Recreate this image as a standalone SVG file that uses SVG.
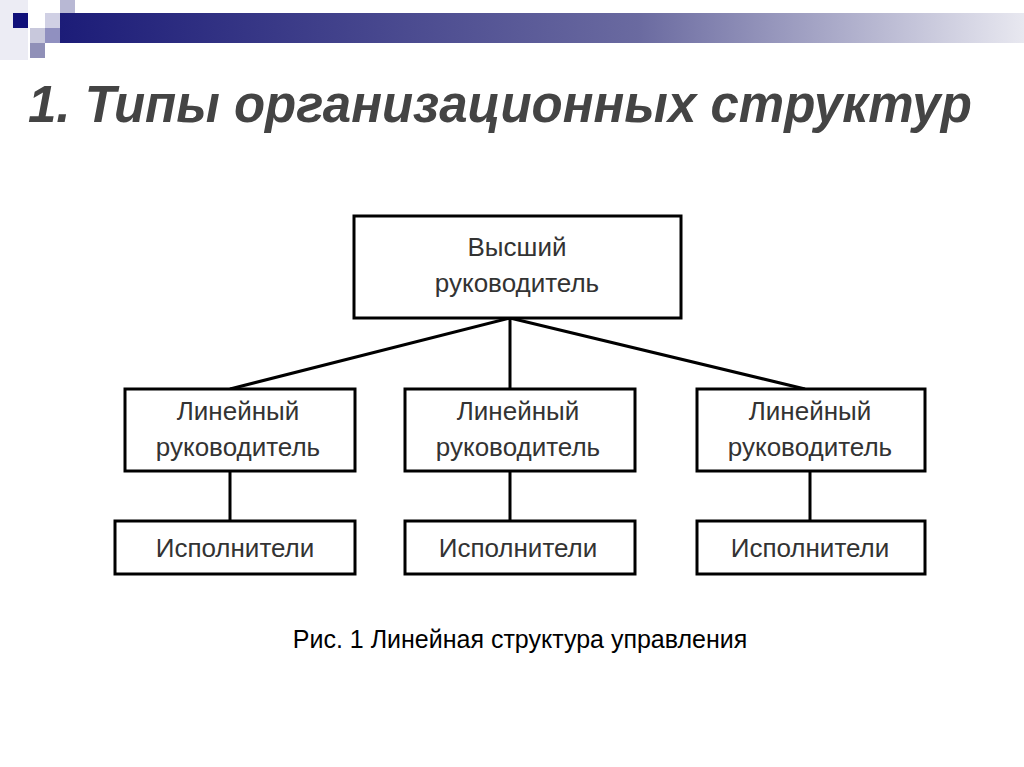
<svg xmlns="http://www.w3.org/2000/svg" width="1024" height="767" viewBox="0 0 1024 767">
<defs>
<linearGradient id="bar" x1="0" x2="1" y1="0" y2="0">
<stop offset="0" stop-color="#1c1c78"/><stop offset="0.6" stop-color="#6a6aa0"/><stop offset="1" stop-color="#e8e8f0"/>
</linearGradient>
<style>
.box{fill:#fff;stroke:#000;stroke-width:3}
.t{font-family:"Liberation Sans",Arial,sans-serif;font-size:26px;fill:#333;text-anchor:middle}
.c{stroke:#000;stroke-width:3;fill:none}
</style>
</defs>
<rect width="1024" height="767" fill="#fff"/>
<rect x="0" y="0" width="28" height="60" fill="#ececf4"/>
<rect x="60" y="0" width="15" height="28" fill="#b8b8d4"/>
<rect x="45" y="13" width="15" height="15" fill="#d0d0e4"/>
<rect x="30" y="28" width="15" height="15" fill="#c8c8dc"/>
<rect x="45" y="28" width="15" height="15" fill="#9090c0"/>
<rect x="30" y="43" width="15" height="15" fill="#9090b8"/>
<rect x="13" y="13" width="15" height="15" fill="#10107a"/>
<rect x="60" y="13" width="964" height="30" fill="url(#bar)"/>
<text x="28" y="122" font-family="'Liberation Sans',Arial,sans-serif" font-size="51" font-weight="bold" font-style="italic" fill="#444">1. Типы организационных структур</text>
<g id="connectors">
<path class="c" d="M510 318 L230 389 M510 318 V389 M510 318 L805 389 M230 471 V521 M510 471 V521 M810 471 V521"/>
</g>
<g id="top"><rect class="box" x="354" y="216" width="327" height="102"/><text class="t" x="517" y="256">Высший</text><text class="t" x="517" y="292">руководитель</text></g>
<g id="l1"><rect class="box" x="125" y="389" width="230" height="82"/><text class="t" x="238" y="420">Линейный</text><text class="t" x="238" y="456">руководитель</text></g>
<g id="l2"><rect class="box" x="405" y="389" width="230" height="82"/><text class="t" x="518" y="420">Линейный</text><text class="t" x="518" y="456">руководитель</text></g>
<g id="l3"><rect class="box" x="697" y="389" width="228" height="82"/><text class="t" x="810" y="420">Линейный</text><text class="t" x="810" y="456">руководитель</text></g>
<g id="e1"><rect class="box" x="115" y="521" width="240" height="53"/><text class="t" x="235" y="557">Исполнители</text></g>
<g id="e2"><rect class="box" x="405" y="521" width="230" height="53"/><text class="t" x="518" y="557">Исполнители</text></g>
<g id="e3"><rect class="box" x="697" y="521" width="228" height="53"/><text class="t" x="810" y="557">Исполнители</text></g>
<text x="520" y="648" font-family="'Liberation Sans',Arial,sans-serif" font-size="25" fill="#000" text-anchor="middle">Рис. 1 Линейная структура управления</text>
</svg>
